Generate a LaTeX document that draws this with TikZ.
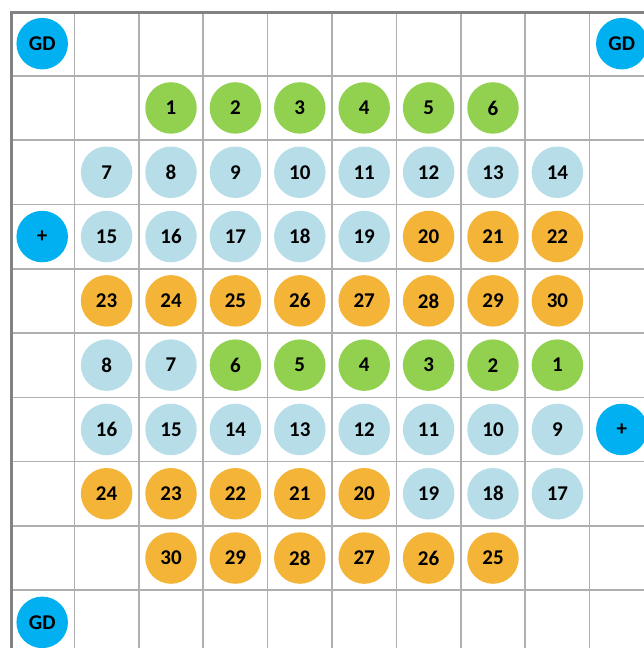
\documentclass[tikz,border=0pt]{standalone}
\usepackage{fontspec}
\setmainfont{Carlito}
\definecolor{gdblue}{RGB}{0,176,240}
\definecolor{lgreen}{RGB}{146,208,80}
\definecolor{lblue}{RGB}{183,222,232}
\definecolor{lorange}{RGB}{243,180,56}
\definecolor{gridgray}{RGB}{175,175,175}
\definecolor{bordergray}{RGB}{130,130,130}
\newcommand\placeball[4]{\node[#1] (b-#2-#3) at ({42.2+64.4*#3},{43.65+64.3*#2}) {#4};}
\begin{document}
\begin{tikzpicture}[x=1pt,y=-1pt,
  ball/.style={circle,minimum size=51.5pt,inner sep=0pt,font=\fontsize{21}{21}\selectfont\bfseries},
  gd/.style={ball,fill=gdblue},
  gr/.style={ball,fill=lgreen},
  lb/.style={ball,fill=lblue},
  og/.style={ball,fill=lorange},
  gridline/.style={gridgray,line width=1.6pt},
  border/.style={bordergray,line width=3pt}]
\useasboundingbox (0,0) rectangle (644,648);
\clip (0,0) rectangle (644,648);
\fill[white] (0,0) rectangle (644,648);
\foreach \i in {1,...,10} \draw[gridline] ({10+64.4*\i},11.5) -- ({10+64.4*\i},648);
\foreach \j in {1,...,9} \draw[gridline] (10,{11.5+64.3*\j}) -- (644,{11.5+64.3*\j});
\draw[border] (11.3,648) -- (11.3,12) -- (644,12);
% row 0
\placeball{gd}{0}{0}{GD}
\placeball{gd}{0}{9}{GD}
% row 1
\placeball{gr}{1}{2}{1}
\placeball{gr}{1}{3}{2}
\placeball{gr}{1}{4}{3}
\placeball{gr}{1}{5}{4}
\placeball{gr}{1}{6}{5}
\placeball{gr}{1}{7}{6}
% row 2
\placeball{lb}{2}{1}{7}
\placeball{lb}{2}{2}{8}
\placeball{lb}{2}{3}{9}
\placeball{lb}{2}{4}{10}
\placeball{lb}{2}{5}{11}
\placeball{lb}{2}{6}{12}
\placeball{lb}{2}{7}{13}
\placeball{lb}{2}{8}{14}
% row 3
\placeball{gd}{3}{0}{+}
\placeball{lb}{3}{1}{15}
\placeball{lb}{3}{2}{16}
\placeball{lb}{3}{3}{17}
\placeball{lb}{3}{4}{18}
\placeball{lb}{3}{5}{19}
\placeball{og}{3}{6}{20}
\placeball{og}{3}{7}{21}
\placeball{og}{3}{8}{22}
% row 4
\placeball{og}{4}{1}{23}
\placeball{og}{4}{2}{24}
\placeball{og}{4}{3}{25}
\placeball{og}{4}{4}{26}
\placeball{og}{4}{5}{27}
\placeball{og}{4}{6}{28}
\placeball{og}{4}{7}{29}
\placeball{og}{4}{8}{30}
% row 5
\placeball{lb}{5}{1}{8}
\placeball{lb}{5}{2}{7}
\placeball{gr}{5}{3}{6}
\placeball{gr}{5}{4}{5}
\placeball{gr}{5}{5}{4}
\placeball{gr}{5}{6}{3}
\placeball{gr}{5}{7}{2}
\placeball{gr}{5}{8}{1}
% row 6
\placeball{lb}{6}{1}{16}
\placeball{lb}{6}{2}{15}
\placeball{lb}{6}{3}{14}
\placeball{lb}{6}{4}{13}
\placeball{lb}{6}{5}{12}
\placeball{lb}{6}{6}{11}
\placeball{lb}{6}{7}{10}
\placeball{lb}{6}{8}{9}
\placeball{gd}{6}{9}{+}
% row 7
\placeball{og}{7}{1}{24}
\placeball{og}{7}{2}{23}
\placeball{og}{7}{3}{22}
\placeball{og}{7}{4}{21}
\placeball{og}{7}{5}{20}
\placeball{lb}{7}{6}{19}
\placeball{lb}{7}{7}{18}
\placeball{lb}{7}{8}{17}
% row 8
\placeball{og}{8}{2}{30}
\placeball{og}{8}{3}{29}
\placeball{og}{8}{4}{28}
\placeball{og}{8}{5}{27}
\placeball{og}{8}{6}{26}
\placeball{og}{8}{7}{25}
% row 9
\placeball{gd}{9}{0}{GD}
\end{tikzpicture}
\end{document}
